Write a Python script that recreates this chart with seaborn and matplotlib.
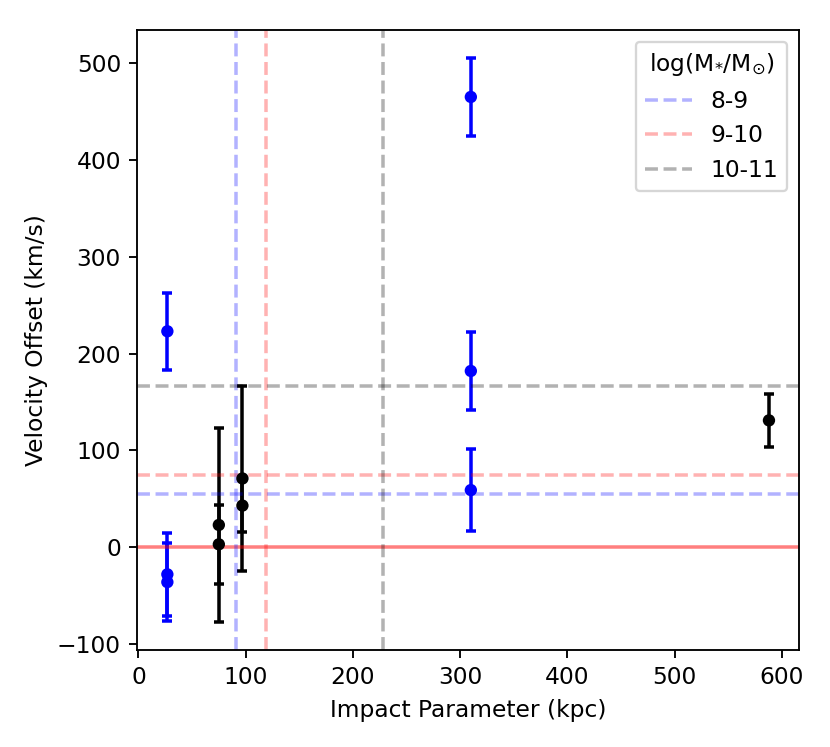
import numpy as np
import pandas as pd
import seaborn as sns
from matplotlib import pyplot as plt

blue_x = [27, 27, 27, 310, 310, 310]
blue_y = [223, -28, -36, 465, 182, 59]
blue_err = [40, 43, 40, 40, 40, 42]

black_x = [75, 75, 97, 97, 588]
black_y = [23, 3, 71, 43, 131]
black_err = [100, 41, 96, 27, 27]

mass_bins = ['8-9', '9-10', '10-11']
bin_colors = ['b', 'r', 'k']
bin_impact = [91, 119, 228]
bin_velocity = [55, 75, 167]

sns.set_style('ticks')
plt.rcParams['font.family'] = ['DejaVu Sans']
plt.rcParams.update({'text.color': 'k', 'axes.labelcolor': 'k',
                     'xtick.color': 'k', 'ytick.color': 'k'})

df = pd.concat([
    pd.DataFrame({'b': blue_x, 'v': blue_y, 'err': blue_err, 'grp': 'blue'}),
    pd.DataFrame({'b': black_x, 'v': black_y, 'err': black_err, 'grp': 'black'}),
], ignore_index=True)

dpi = 168
fig = plt.figure(figsize=(830 / dpi, 747 / dpi), dpi=dpi)
ax = fig.add_axes([0.1654, 0.1299, 0.7973, 0.8299])

for grp, c in [('blue', 'b'), ('black', 'k')]:
    d = df[df['grp'] == grp]
    ax.errorbar(d['b'], d['v'], yerr=d['err'], fmt='none', ecolor=c,
                elinewidth=1.5, capsize=2, capthick=1.5)
sns.scatterplot(data=df, x='b', y='v', hue='grp', palette={'blue': 'b', 'black': 'k'},
                s=28, edgecolor=None, linewidth=0, legend=False, ax=ax, zorder=3)

ax.axhline(0, color='r', alpha=0.5)
for lab, c, xv, yv in zip(mass_bins, bin_colors, bin_impact, bin_velocity):
    ax.axvline(xv, color=c, ls='--', alpha=0.3, label=lab)
    ax.axhline(yv, color=c, ls='--', alpha=0.3)

ax.set_xlabel('Impact Parameter (kpc)', color='k')
ax.set_ylabel('Velocity Offset (km/s)', color='k')
leg = ax.legend(title=r'log(M$_{*}$/M$_{\odot}$)', loc='upper right')
leg.get_title().set_color('k')
for t in leg.get_texts():
    t.set_color('k')
for s in ax.spines.values():
    s.set_color('k')
    s.set_linewidth(0.8)
ax.tick_params(colors='k', labelcolor='k', length=3.5, width=0.8)

fig.savefig('out.png', dpi=dpi)
